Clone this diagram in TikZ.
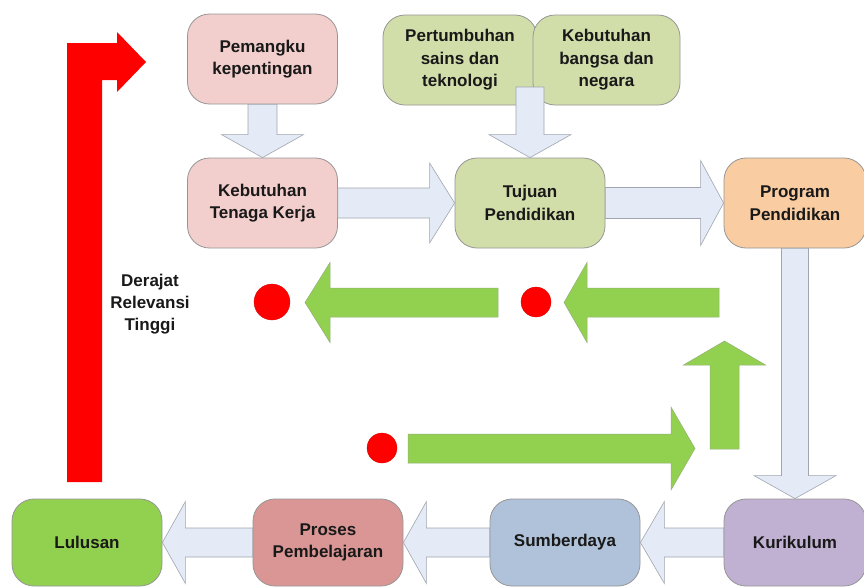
\documentclass[tikz,border=0pt]{standalone}
\usepackage{fontspec}
\setmainfont{Liberation Sans}
\usetikzlibrary{calc}
\definecolor{cpink}{RGB}{242,206,204}
\definecolor{clgreen}{RGB}{209,222,170}
\definecolor{corange}{RGB}{250,204,162}
\definecolor{cpurple}{RGB}{192,176,210}
\definecolor{cblue}{RGB}{176,194,218}
\definecolor{crose}{RGB}{217,150,148}
\definecolor{cgreen}{RGB}{146,208,80}
\definecolor{carrow}{RGB}{228,235,246}
\definecolor{arrline}{RGB}{160,165,175}
\definecolor{boxline}{RGB}{150,150,150}
\definecolor{garline}{RGB}{150,175,120}
\definecolor{txt}{RGB}{25,25,25}
\newcommand\blockarr[6]{%
  \coordinate (hb) at ($(#3)!#6!(#2)$);
  \draw[#1] ($(#2)!#4!90:(#3)$) -- ($(hb)!#4!90:(#3)$) -- ($(hb)!#5!90:(#3)$) -- (#3)
    -- ($(hb)!#5!-90:(#3)$) -- ($(hb)!#4!-90:(#3)$) -- ($(#2)!#4!-90:(#3)$) -- cycle;
}
\begin{document}
\begin{tikzpicture}[x=1pt,y=-1pt,
  box/.style={draw=boxline, line width=0.8pt, rounded corners=22pt, minimum width=150pt,
    minimum height=90pt, inner sep=0pt, align=center, text=txt,
    font=\fontsize{17}{22.5}\selectfont\bfseries},
  lbl/.style={align=center, text=txt, inner sep=0pt, font=\fontsize{17}{22}\selectfont\bfseries},
  larrow/.style={draw=arrline, fill=carrow, line width=0.6pt},
  garrow/.style={draw=garline, fill=cgreen, line width=0.5pt},
  dot/.style={circle, fill=red, draw=red!85!black, line width=0.3pt, inner sep=0pt}]
\clip (0,0) rectangle (864,587);
\fill[white] (0,0) rectangle (864,587);
% boxes
\node[box, fill=cpink] (pk) at (262.5,59) {Pemangku\\kepentingan};
\node[box, fill=cpink] (ktk) at (262.5,203) {Kebutuhan\\Tenaga Kerja};
\node[box, fill=clgreen, minimum width=154pt] (ps) at (460,60) {Pertumbuhan\\sains dan\\teknologi};
\node[box, fill=clgreen, minimum width=147pt] (kb) at (606.5,60) {Kebutuhan\\bangsa dan\\negara};
\node[box, fill=clgreen] (tp) at (530,203) {Tujuan\\Pendidikan};
\node[box, fill=corange, minimum width=142pt] (pp) at (795,203) {Program\\Pendidikan};
\node[box, fill=cpurple, minimum width=142pt, minimum height=87pt] (ku) at (795,542.5) {Kurikulum};
\node[box, fill=cblue, minimum height=87pt] (sd) at (565,542.5) {Sumberdaya};
\node[box, fill=crose, minimum height=87pt] (pr) at (328,542.5) {Proses\\Pembelajaran};
\node[box, fill=cgreen, minimum height=87pt] (lu) at (87,542.5) {Lulusan};
% light block arrows
\blockarr{larrow}{pk.south}{ktk.north}{14.5pt}{41pt}{23pt}
\blockarr{larrow}{ktk.east}{tp.west}{15pt}{40pt}{25pt}
\coordinate (gsrc) at (tp.north |- 0,87);
\blockarr{larrow}{gsrc}{tp.north}{14pt}{41pt}{23pt}
\blockarr{larrow}{tp.east}{pp.west}{15.5pt}{42.5pt}{23pt}
\blockarr{larrow}{pp.south}{ku.north}{13.5pt}{41pt}{23pt}
\blockarr{larrow}{ku.west}{sd.east}{14.5pt}{41pt}{24pt}
\blockarr{larrow}{sd.west}{pr.east}{14.5pt}{41pt}{23pt}
\blockarr{larrow}{pr.west}{lu.east}{14.5pt}{41pt}{23pt}
% red dots
\node[dot, minimum size=36pt] (d1) at (272,302) {};
\node[dot, minimum size=30pt] (d2) at (536,302) {};
\node[dot, minimum size=30pt] (d3) at (382,448) {};
% green arrows
\coordinate (g1s) at (719,302.5); \coordinate (g1t) at (564,302.5);
\blockarr{garrow}{g1s}{g1t}{14.5pt}{40pt}{23pt}
\coordinate (g2s) at (498,302.5); \coordinate (g2t) at (305,302.5);
\blockarr{garrow}{g2s}{g2t}{14.5pt}{40pt}{25pt}
\coordinate (g3s) at (408,448.5); \coordinate (g3t) at (695,448.5);
\blockarr{garrow}{g3s}{g3t}{14.5pt}{41.5pt}{24pt}
\coordinate (g4s) at (724.5,449); \coordinate (g4t) at (724.5,341);
\blockarr{garrow}{g4s}{g4t}{14.5pt}{41pt}{24pt}
% red bent arrow
\fill[red] (67,482) -- (67,43) -- (117,43) -- (117,32) -- (146,62) -- (117,92)
  -- (117,80) -- (102,80) -- (102,482) -- cycle;
% label
\node[lbl] (dr) at (150,304) {Derajat\\Relevansi\\Tinggi};
\end{tikzpicture}
\end{document}
